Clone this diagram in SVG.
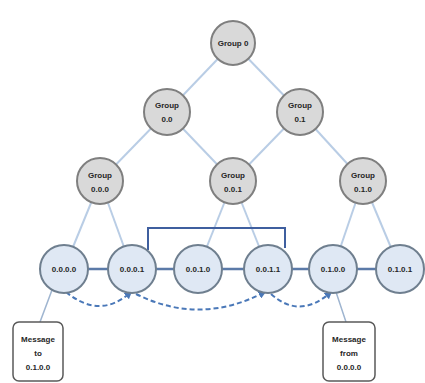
<svg xmlns="http://www.w3.org/2000/svg" width="425" height="383" viewBox="0 0 425 383">
<style>
.grp{fill:#d9d9d9;stroke:#7f7f7f;stroke-width:2}
.leaf{fill:#dfe8f4;stroke:#6f7f8f;stroke-width:2}
.tree{stroke:#b9cde5;stroke-width:2;fill:none}
.bus{stroke:#5b7aa8;stroke-width:2.5;fill:none}
.br{stroke:#3f5f9f;stroke-width:2;fill:none}
.dash{stroke:#4a78b8;stroke-width:2;stroke-dasharray:5 3;fill:none}
.msgl{stroke:#9fb5d0;stroke-width:1.5;fill:none}
.box{fill:#fff;stroke:#595959;stroke-width:1.5}
text{font-family:"Liberation Sans",Arial,sans-serif;font-weight:bold;font-size:8px;fill:#262626;text-anchor:middle}
</style>
<defs>
<marker id="ah" viewBox="0 0 10 10" refX="8" refY="5" markerWidth="4" markerHeight="4" orient="auto">
<path d="M0,0 L10,5 L0,10 z" fill="#4a78b8"/>
</marker>
</defs>
<g id="connectors">
<line class="tree" x1="233" y1="43" x2="167" y2="112"/>
<line class="tree" x1="233" y1="43" x2="300" y2="112"/>
<line class="tree" x1="167" y1="112" x2="100" y2="181"/>
<line class="tree" x1="167" y1="112" x2="233" y2="181"/>
<line class="tree" x1="300" y1="112" x2="233" y2="181"/>
<line class="tree" x1="300" y1="112" x2="363" y2="181"/>
<line class="tree" x1="100" y1="181" x2="64" y2="269"/>
<line class="tree" x1="100" y1="181" x2="132" y2="269"/>
<line class="tree" x1="233" y1="181" x2="198" y2="269"/>
<line class="tree" x1="233" y1="181" x2="268" y2="269"/>
<line class="tree" x1="363" y1="181" x2="333" y2="269"/>
<line class="tree" x1="363" y1="181" x2="400" y2="269"/>
<line class="bus" x1="64" y1="269" x2="400" y2="269"/>
<path class="br" d="M148,250 V228 H285 V248"/>
<line class="msgl" x1="40" y1="322" x2="52" y2="290"/>
<line class="msgl" x1="346" y1="322" x2="336" y2="292"/>
<path class="dash" d="M66,292 Q100,320 131,292" marker-end="url(#ah)"/>
<path class="dash" d="M136,294 Q200,326 265,292" marker-end="url(#ah)"/>
<path class="dash" d="M271,294 Q300,320 331,292" marker-end="url(#ah)"/>
</g>
<g id="g0"><circle class="grp" cx="233" cy="43" r="22"/><text x="233" y="46">Group 0</text></g>
<g id="g00"><circle class="grp" cx="167" cy="112" r="23"/><text x="167" y="108">Group</text><text x="167" y="122">0.0</text></g>
<g id="g01"><circle class="grp" cx="300" cy="112" r="23"/><text x="300" y="108">Group</text><text x="300" y="122">0.1</text></g>
<g id="g000"><circle class="grp" cx="100" cy="181" r="23"/><text x="100" y="178">Group</text><text x="100" y="192">0.0.0</text></g>
<g id="g001"><circle class="grp" cx="233" cy="181" r="23"/><text x="233" y="178">Group</text><text x="233" y="192">0.0.1</text></g>
<g id="g010"><circle class="grp" cx="363" cy="181" r="23"/><text x="363" y="178">Group</text><text x="363" y="192">0.1.0</text></g>
<g id="n0000"><circle class="leaf" cx="64" cy="269" r="24"/><text x="64" y="272">0.0.0.0</text></g>
<g id="n0001"><circle class="leaf" cx="132" cy="269" r="24"/><text x="132" y="272">0.0.0.1</text></g>
<g id="n0010"><circle class="leaf" cx="198" cy="269" r="24"/><text x="198" y="272">0.0.1.0</text></g>
<g id="n0011"><circle class="leaf" cx="268" cy="269" r="24"/><text x="268" y="272">0.0.1.1</text></g>
<g id="n0100"><circle class="leaf" cx="333" cy="269" r="24"/><text x="333" y="272">0.1.0.0</text></g>
<g id="n0101"><circle class="leaf" cx="400" cy="269" r="24"/><text x="400" y="272">0.1.0.1</text></g>
<g id="msgTo"><rect class="box" x="13" y="322" width="50" height="59" rx="6"/><text x="38" y="342">Message</text><text x="38" y="356">to</text><text x="38" y="370">0.1.0.0</text></g>
<g id="msgFrom"><rect class="box" x="323" y="322" width="52" height="59" rx="6"/><text x="349" y="342">Message</text><text x="349" y="356">from</text><text x="349" y="370">0.0.0.0</text></g>
</svg>
